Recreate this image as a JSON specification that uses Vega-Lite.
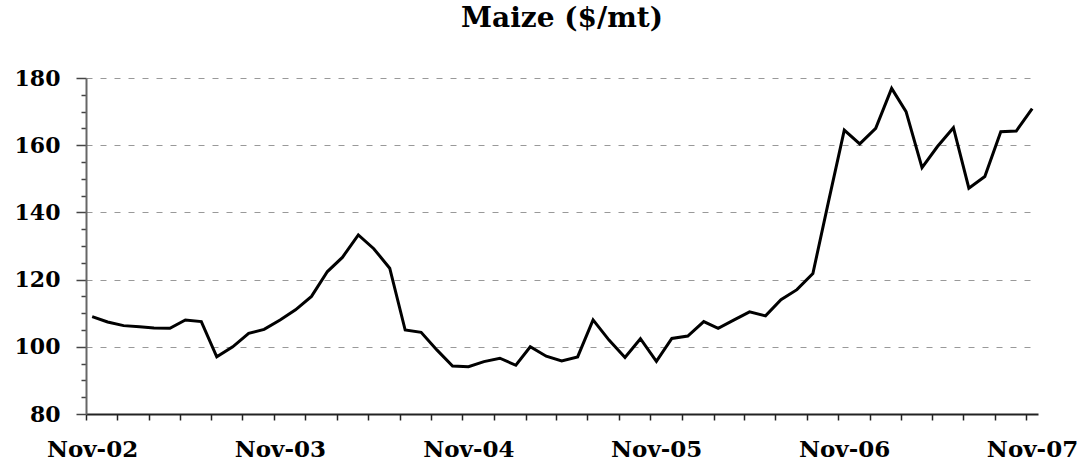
{
  "$schema": "https://vega.github.io/schema/vega-lite/v6.json",
  "autosize": "none",
  "width": 952,
  "height": 336,
  "padding": {"left": 86, "top": 78, "right": 43, "bottom": 47},
  "background": "white",
  "title": {
    "text": "Maize ($/mt)",
    "font": "DejaVu Serif",
    "fontSize": 28,
    "fontWeight": "bold",
    "color": "black",
    "anchor": "middle",
    "frame": "group",
    "baseline": "alphabetic",
    "offset": 12
  },
  "config": {"view": {"stroke": null}},
  "data": {
    "values": [
      {"date": "2002-11-01", "price": 109.0},
      {"date": "2002-12-01", "price": 107.4},
      {"date": "2003-01-01", "price": 106.3},
      {"date": "2003-02-01", "price": 106.0},
      {"date": "2003-03-01", "price": 105.6},
      {"date": "2003-04-01", "price": 105.5},
      {"date": "2003-05-01", "price": 108.0},
      {"date": "2003-06-01", "price": 107.5},
      {"date": "2003-07-01", "price": 97.0},
      {"date": "2003-08-01", "price": 100.0},
      {"date": "2003-09-01", "price": 104.0},
      {"date": "2003-10-01", "price": 105.2},
      {"date": "2003-11-01", "price": 108.0},
      {"date": "2003-12-01", "price": 111.0},
      {"date": "2004-01-01", "price": 115.0},
      {"date": "2004-02-01", "price": 122.4},
      {"date": "2004-03-01", "price": 126.6},
      {"date": "2004-04-01", "price": 133.3},
      {"date": "2004-05-01", "price": 129.2},
      {"date": "2004-06-01", "price": 123.4},
      {"date": "2004-07-01", "price": 105.0},
      {"date": "2004-08-01", "price": 104.3},
      {"date": "2004-09-01", "price": 99.0},
      {"date": "2004-10-01", "price": 94.3},
      {"date": "2004-11-01", "price": 94.1},
      {"date": "2004-12-01", "price": 95.6},
      {"date": "2005-01-01", "price": 96.6},
      {"date": "2005-02-01", "price": 94.5},
      {"date": "2005-03-01", "price": 100.0},
      {"date": "2005-04-01", "price": 97.2},
      {"date": "2005-05-01", "price": 95.8},
      {"date": "2005-06-01", "price": 97.0},
      {"date": "2005-07-01", "price": 108.0},
      {"date": "2005-08-01", "price": 102.0},
      {"date": "2005-09-01", "price": 96.8},
      {"date": "2005-10-01", "price": 102.4},
      {"date": "2005-11-01", "price": 95.7},
      {"date": "2005-12-01", "price": 102.5},
      {"date": "2006-01-01", "price": 103.2},
      {"date": "2006-02-01", "price": 107.5},
      {"date": "2006-03-01", "price": 105.5},
      {"date": "2006-04-01", "price": 108.0},
      {"date": "2006-05-01", "price": 110.4},
      {"date": "2006-06-01", "price": 109.2},
      {"date": "2006-07-01", "price": 114.0},
      {"date": "2006-08-01", "price": 117.0},
      {"date": "2006-09-01", "price": 121.8},
      {"date": "2006-10-01", "price": 143.0},
      {"date": "2006-11-01", "price": 164.5},
      {"date": "2006-12-01", "price": 160.4},
      {"date": "2007-01-01", "price": 165.0},
      {"date": "2007-02-01", "price": 176.9},
      {"date": "2007-03-01", "price": 170.0},
      {"date": "2007-04-01", "price": 153.3},
      {"date": "2007-05-01", "price": 159.6},
      {"date": "2007-06-01", "price": 165.2},
      {"date": "2007-07-01", "price": 147.2},
      {"date": "2007-08-01", "price": 150.7},
      {"date": "2007-09-01", "price": 164.0},
      {"date": "2007-10-01", "price": 164.2},
      {"date": "2007-11-01", "price": 170.9}
    ]
  },
  "mark": {"type": "line", "color": "black", "strokeWidth": 3, "strokeJoin": "miter", "clip": true},
  "encoding": {
    "x": {
      "field": "date",
      "type": "temporal",
      "scale": {
        "type": "utc",
        "domain": [
          {"year": 2002, "month": "Oct", "date": 20, "utc": true},
          {"year": 2007, "month": "Nov", "date": 12, "hours": 7, "utc": true}
        ]
      },
      "axis": {
        "title": null,
        "values": [
          {"year": 2002, "month": "Oct", "date": 20, "hours": 1, "utc": true},
          {"year": 2002, "month": "Dec", "date": 20, "utc": true},
          {"year": 2003, "month": "Feb", "date": 20, "utc": true},
          {"year": 2003, "month": "Apr", "date": 20, "utc": true},
          {"year": 2003, "month": "Jun", "date": 20, "utc": true},
          {"year": 2003, "month": "Aug", "date": 20, "utc": true},
          {"year": 2003, "month": "Oct", "date": 20, "utc": true},
          {"year": 2003, "month": "Dec", "date": 20, "utc": true},
          {"year": 2004, "month": "Feb", "date": 20, "utc": true},
          {"year": 2004, "month": "Apr", "date": 20, "utc": true},
          {"year": 2004, "month": "Jun", "date": 20, "utc": true},
          {"year": 2004, "month": "Aug", "date": 20, "utc": true},
          {"year": 2004, "month": "Oct", "date": 20, "utc": true},
          {"year": 2004, "month": "Dec", "date": 20, "utc": true},
          {"year": 2005, "month": "Feb", "date": 20, "utc": true},
          {"year": 2005, "month": "Apr", "date": 20, "utc": true},
          {"year": 2005, "month": "Jun", "date": 20, "utc": true},
          {"year": 2005, "month": "Aug", "date": 20, "utc": true},
          {"year": 2005, "month": "Oct", "date": 20, "utc": true},
          {"year": 2005, "month": "Dec", "date": 20, "utc": true},
          {"year": 2006, "month": "Feb", "date": 20, "utc": true},
          {"year": 2006, "month": "Apr", "date": 20, "utc": true},
          {"year": 2006, "month": "Jun", "date": 20, "utc": true},
          {"year": 2006, "month": "Aug", "date": 20, "utc": true},
          {"year": 2006, "month": "Oct", "date": 20, "utc": true},
          {"year": 2006, "month": "Dec", "date": 20, "utc": true},
          {"year": 2007, "month": "Feb", "date": 20, "utc": true},
          {"year": 2007, "month": "Apr", "date": 20, "utc": true},
          {"year": 2007, "month": "Jun", "date": 20, "utc": true},
          {"year": 2007, "month": "Aug", "date": 20, "utc": true},
          {"year": 2007, "month": "Oct", "date": 20, "utc": true}
        ],
        "labelExpr": "utcmonth(datum.value) === 9 ? utcFormat(datum.value + 12 * 86400000, '%b-%y') : ''",
        "labelOffset": 6,
        "labelFlush": false,
        "labelBound": false,
        "labelOverlap": false,
        "labelFont": "DejaVu Serif",
        "labelFontWeight": "bold",
        "labelFontSize": 23,
        "labelColor": "black",
        "labelPadding": 18,
        "tickSize": 6,
        "tickColor": "#222",
        "tickWidth": 1.5,
        "domainColor": "#222",
        "domainWidth": 2,
        "grid": false
      }
    },
    "y": {
      "field": "price",
      "type": "quantitative",
      "scale": {"domain": [80, 180], "nice": false, "zero": false},
      "axis": {
        "title": null,
        "values": [80, 85, 90, 95, 100, 105, 110, 115, 120, 125, 130, 135, 140, 145, 150, 155, 160, 165, 170, 175, 180],
        "labelExpr": "datum.value % 20 === 0 ? datum.label : ''",
        "labelFont": "DejaVu Serif",
        "labelFontWeight": "bold",
        "labelFontSize": 22,
        "labelColor": "black",
        "labelPadding": 16,
        "labelOverlap": false,
        "labelFlush": false,
        "tickSize": {"condition": {"test": "datum.value % 20 === 0", "value": 10}, "value": 5},
        "tickColor": "#444",
        "tickWidth": 1.5,
        "domainColor": "#666",
        "domainWidth": 2,
        "grid": true,
        "gridColor": "#999",
        "gridDash": [6, 8],
        "gridWidth": 1,
        "gridOpacity": {"condition": {"test": "datum.value % 20 === 0 && datum.value > 80", "value": 1}, "value": 0}
      }
    }
  }
}
